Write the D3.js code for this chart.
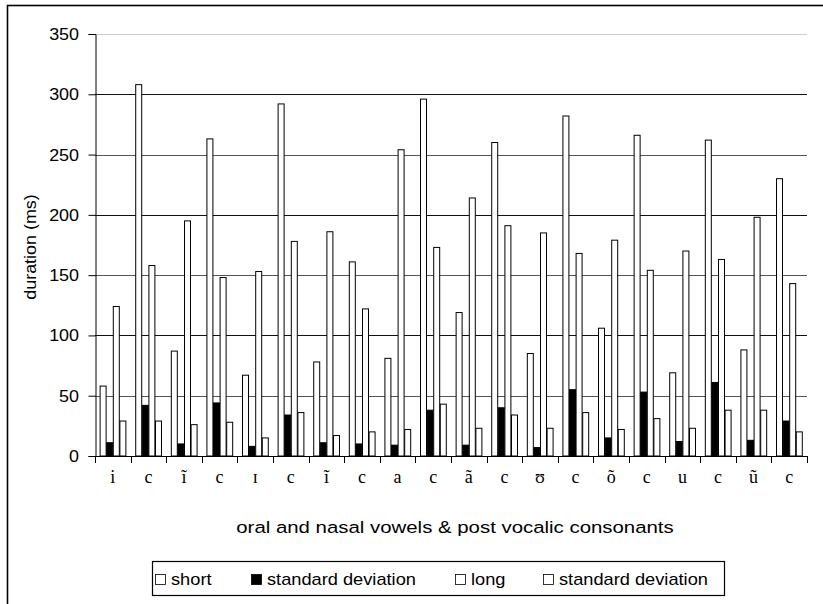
<!DOCTYPE html>
<html>
<head>
<meta charset="utf-8">
<script src="https://cdn.jsdelivr.net/npm/d3@7"></script>
<style>
  html, body { margin: 0; padding: 0; background: #fff; }
  svg { display: block; }
  text { font-family: "Liberation Sans", Arial, sans-serif; fill: #000; }
  .cat { font-family: "Liberation Serif", "Times New Roman", serif; }
</style>
</head>
<body>
<svg id="chart" width="823" height="604"></svg>
<script>
// Vowel / post-vocalic consonant categories
const categories = ["i", "c", "ĩ", "c", "ɪ", "c", "ĩ", "c", "a", "c", "ã", "c", "ʊ", "c", "õ", "c", "u", "c", "ũ", "c"];

// Durations in ms
const shortDur = [58, 308, 87, 263, 67, 292, 78, 161, 81, 296, 119, 260, 85, 282, 106, 266, 69, 262, 88, 230];
const shortSD  = [11, 42, 10, 44, 8, 34, 11, 10, 9, 38, 9, 40, 7, 55, 15, 53, 12, 61, 13, 29];
const longDur  = [124, 158, 195, 148, 153, 178, 186, 122, 254, 173, 214, 191, 185, 168, 179, 154, 170, 163, 198, 143];
const longSD   = [29, 29, 26, 28, 15, 36, 17, 20, 22, 43, 23, 34, 23, 36, 22, 31, 23, 38, 38, 20];

const seriesNames = ["short", "standard deviation", "long", "standard deviation"];
const seriesFill = ["#ffffff", "#000000", "#ffffff", "#ffffff"];
const seriesValues = [shortDur, shortSD, longDur, longSD];

const yTicks = [0, 50, 100, 150, 200, 250, 300, 350];

const svg = d3.select("#chart");

// text helper with a slight horizontal stretch
function label(g, x, y, str, opts) {
  const o = Object.assign({ size: 16, sx: 1.13, anchor: "start", rotate: 0 }, opts || {});
  return g.append("text")
    .attr("transform", `translate(${x},${y}) rotate(${o.rotate}) scale(${o.sx},1)`)
    .attr("text-anchor", o.anchor)
    .attr("font-size", o.size)
    .text(str);
}

// outer frame
svg.append("rect")
  .attr("x", 7.5).attr("y", 5.5)
  .attr("width", 840).attr("height", 640)
  .attr("fill", "none").attr("stroke", "#000").attr("stroke-width", 1.6);

const plot = { left: 95, right: 807, top: 34, bottom: 456 };

const y = d3.scaleLinear().domain([0, 350]).range([plot.bottom, plot.top]);
const x = d3.scaleBand().domain(d3.range(categories.length)).range([plot.left, plot.right]).padding(0);
const xs = d3.scaleBand().domain(d3.range(4)).range([0, x.bandwidth()]).paddingInner(0).paddingOuter(0.7);

// horizontal gridlines
const gridColor = v => v === 350 ? "#cfcfcf" : (v % 100 === 0 ? "#111" : "#555");
svg.append("g").selectAll("line")
  .data(yTicks.filter(v => v > 0))
  .join("line")
  .attr("x1", plot.left).attr("x2", plot.right)
  .attr("y1", d => Math.round(y(d)) + 0.5).attr("y2", d => Math.round(y(d)) + 0.5)
  .attr("stroke", gridColor).attr("stroke-width", 1);

// bars
const rows = categories.map((c, i) => seriesValues.map((vals, s) => ({ i, s, v: vals[i] })));
svg.append("g").selectAll("g")
  .data(rows)
  .join("g")
  .attr("transform", (d, i) => `translate(${x(i)},0)`)
  .selectAll("rect")
  .data(d => d)
  .join("rect")
  .attr("x", d => xs(d.s) + 0.5)
  .attr("width", xs.bandwidth() - 0.6)
  .attr("y", d => y(d.v))
  .attr("height", d => y(0) - y(d.v))
  .attr("fill", d => seriesFill[d.s])
  .attr("stroke", "#000")
  .attr("stroke-width", 1);

// y axis (line and ticks from d3, labels placed with stretch)
const yAxis = svg.append("g")
  .attr("transform", `translate(${plot.left + 0.5},0)`)
  .call(d3.axisLeft(y).tickValues(yTicks).tickSize(7).tickFormat(""));
yAxis.select(".domain").attr("stroke", "#000");
yAxis.selectAll(".tick line").attr("stroke", "#000");
const yLab = svg.append("g");
yTicks.forEach(v => label(yLab, 79, y(v) + 6, d3.format("d")(v), { anchor: "end", size: 16, sx: 1.12 }));

// x axis: ticks at category boundaries
const xAxisG = svg.append("g");
xAxisG.append("line")
  .attr("x1", plot.left).attr("x2", plot.right + 0.5)
  .attr("y1", plot.bottom + 0.5).attr("y2", plot.bottom + 0.5)
  .attr("stroke", "#000");
xAxisG.selectAll("line.tk")
  .data(d3.range(categories.length + 1))
  .join("line")
  .attr("class", "tk")
  .attr("x1", i => Math.round(plot.left + i * x.step()) + 0.5)
  .attr("x2", i => Math.round(plot.left + i * x.step()) + 0.5)
  .attr("y1", plot.bottom).attr("y2", plot.bottom + 7)
  .attr("stroke", "#000");
xAxisG.selectAll("text")
  .data(categories)
  .join("text")
  .attr("class", "cat")
  .attr("x", (d, i) => x(i) + x.bandwidth() / 2)
  .attr("y", 483)
  .attr("text-anchor", "middle")
  .attr("font-size", 18)
  .text(d => d);

// axis titles
label(svg, 455, 533, "oral and nasal vowels & post vocalic consonants", { anchor: "middle", size: 17, sx: 1.2 });
label(svg, 36, 247, "duration (ms)", { anchor: "middle", size: 16, sx: 1.12, rotate: -90 });

// legend
const legend = svg.append("g");
legend.append("rect")
  .attr("x", 152.5).attr("y", 561.5).attr("width", 572).attr("height", 34)
  .attr("fill", "#fff").attr("stroke", "#000").attr("stroke-width", 1.2);
const legendX = [155, 251, 455, 543];
seriesNames.forEach((name, i) => {
  const g = legend.append("g").attr("transform", `translate(${legendX[i]},0)`);
  g.append("rect")
    .attr("x", 0.5).attr("y", 574.5).attr("width", 10).attr("height", 10)
    .attr("fill", seriesFill[i]).attr("stroke", "#000").attr("stroke-width", 0.8);
  label(g, 16, 585, name, { size: 16, sx: 1.14 });
});
</script>
</body>
</html>
